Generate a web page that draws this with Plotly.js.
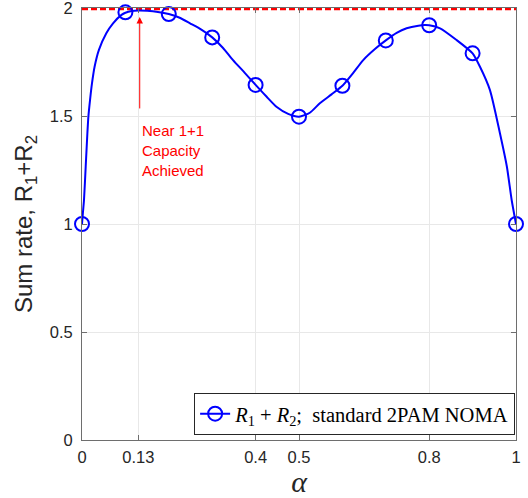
<!DOCTYPE html>
<html>
<head>
<meta charset="utf-8">
<script src="https://cdn.plot.ly/plotly-3.0.1.min.js"></script>
<style>html,body{margin:0;padding:0;background:#fff;}#chart{width:528px;height:498px;}</style>
</head>
<body>
<div id="chart"></div>
<script>
// Marker positions (alpha) and sum rate values
var alphaMarkers = [0, 0.1, 0.2, 0.3, 0.4, 0.5, 0.6, 0.7, 0.8, 0.9, 1.0];
var rateMarkers  = [1.0, 1.98, 1.972, 1.864, 1.644, 1.497, 1.640, 1.850, 1.920, 1.790, 1.0];

// Dense curve
var alphaCurve = [0, 0.002, 0.0046, 0.0085, 0.0124, 0.0147, 0.0185, 0.023, 0.029, 0.039, 0.056, 0.0715, 0.091, 0.1, 0.115, 0.13, 0.15, 0.175, 0.2, 0.225, 0.249, 0.275, 0.3, 0.325, 0.348, 0.375, 0.4, 0.425, 0.448, 0.475, 0.5, 0.525, 0.548, 0.575, 0.6, 0.625, 0.648, 0.675, 0.7, 0.725, 0.748, 0.775, 0.79, 0.8, 0.825, 0.863, 0.9, 0.917, 0.94, 0.963, 0.979, 0.99, 1.0];
var rateCurve  = [1.0, 1.05, 1.111, 1.265, 1.42, 1.497, 1.574, 1.651, 1.728, 1.806, 1.883, 1.929, 1.968, 1.978, 1.986, 1.988, 1.987, 1.982, 1.972, 1.955, 1.929, 1.90, 1.864, 1.815, 1.759, 1.70, 1.644, 1.59, 1.543, 1.51, 1.497, 1.515, 1.559, 1.60, 1.640, 1.70, 1.759, 1.81, 1.850, 1.885, 1.906, 1.918, 1.921, 1.920, 1.906, 1.852, 1.790, 1.728, 1.620, 1.42, 1.265, 1.111, 1.0];

// Capacity reference line
var capAlpha = [0, 1];
var capRate  = [2, 2];

var xTicks = [0, 0.13, 0.4, 0.5, 0.8, 1];
var xTickText = ['0', '0.13', '0.4', '0.5', '0.8', '1'];
var yTicks = [0, 0.5, 1, 1.5, 2];
var yTickText = ['0', '0.5', '1', '1.5', '2'];

var legendLabel = '<i>R</i><sub>1</sub> + <i>R</i><sub>2</sub>;  standard 2PAM NOMA';
var noteLines = ['Near 1+1', 'Capacity', 'Achieved'];
var noteY = [1.435, 1.34, 1.25];
var arrowX = 0.133, arrowTip = 1.958, arrowTail = 1.528;

var blue = '#0000ff';
var traces = [
  {x: capAlpha, y: capRate, mode: 'lines', line: {color: '#ff0000', width: 4.5, dash: '6px,3px'}, showlegend: false, hoverinfo: 'skip'},
  {x: alphaCurve, y: rateCurve, mode: 'lines', line: {color: blue, width: 2, shape: 'spline', smoothing: 0.6}, showlegend: false, hoverinfo: 'skip'},
  {x: alphaMarkers, y: rateMarkers, mode: 'markers', name: legendLabel, cliponaxis: false,
   marker: {symbol: 'circle-open', size: 14, color: blue, line: {width: 2, color: blue}}, showlegend: false},
  {x: [null], y: [null], mode: 'lines+markers', name: legendLabel,
   line: {color: blue, width: 2}, marker: {symbol: 'circle-open', size: 14, color: blue, line: {width: 2, color: blue}}}
];

var annotations = [{
  x: arrowX, y: arrowTip, ax: arrowX, ay: arrowTail, axref: 'x', ayref: 'y', xref: 'x', yref: 'y',
  text: '', showarrow: true, arrowhead: 2, arrowsize: 1.3, arrowwidth: 1, arrowcolor: '#ff0000'
}];
noteLines.forEach(function (t, i) {
  annotations.push({x: 0.134, y: noteY[i], xref: 'x', yref: 'y', text: t, showarrow: false,
    xanchor: 'left', yanchor: 'middle', font: {family: 'Liberation Sans, Arial, sans-serif', size: 15, color: '#ff0000'}});
});

var axisCommon = {
  showline: true, linecolor: '#6e6e6e', linewidth: 1, mirror: 'ticks',
  ticks: 'inside', ticklen: 5, tickcolor: '#6e6e6e', tickwidth: 1,
  showgrid: true, gridcolor: '#e8e8e8', gridwidth: 1, zeroline: false,
  ticklabeloverflow: 'allow',
  tickfont: {family: 'Liberation Sans, Arial, sans-serif', size: 16.5, color: '#262626'}
};

var layout = {
  width: 528, height: 498,
  margin: {l: 82, r: 12, t: 8, b: 58},
  paper_bgcolor: '#ffffff', plot_bgcolor: '#ffffff',
  showlegend: true,
  xaxis: Object.assign({}, axisCommon, {
    range: [0, 1], tickmode: 'array', tickvals: xTicks, ticktext: xTickText, ticklabelstandoff: 2,
    title: {text: '<i>α</i>', font: {family: 'Liberation Serif, Times New Roman, serif', size: 30, color: '#262626'}, standoff: 4}
  }),
  yaxis: Object.assign({}, axisCommon, {
    range: [0, 2], tickmode: 'array', tickvals: yTicks, ticktext: yTickText, ticklabelstandoff: 5,
    title: {text: 'Sum rate, R<sub>1</sub>+R<sub>2</sub>', font: {family: 'Liberation Sans, Arial, sans-serif', size: 24, color: '#262626'}, standoff: 10}
  }),
  legend: {x: 0.998, y: 0.012, xanchor: 'right', yanchor: 'bottom', bgcolor: '#ffffff', bordercolor: '#262626', borderwidth: 1,
    font: {family: 'Liberation Serif, Times New Roman, serif', size: 20.5, color: '#000000'}, tracegroupgap: 0, itemwidth: 30},
  annotations: annotations
};

Plotly.newPlot('chart', traces, layout, {displayModeBar: false, staticPlot: true});
</script>
</body>
</html>
